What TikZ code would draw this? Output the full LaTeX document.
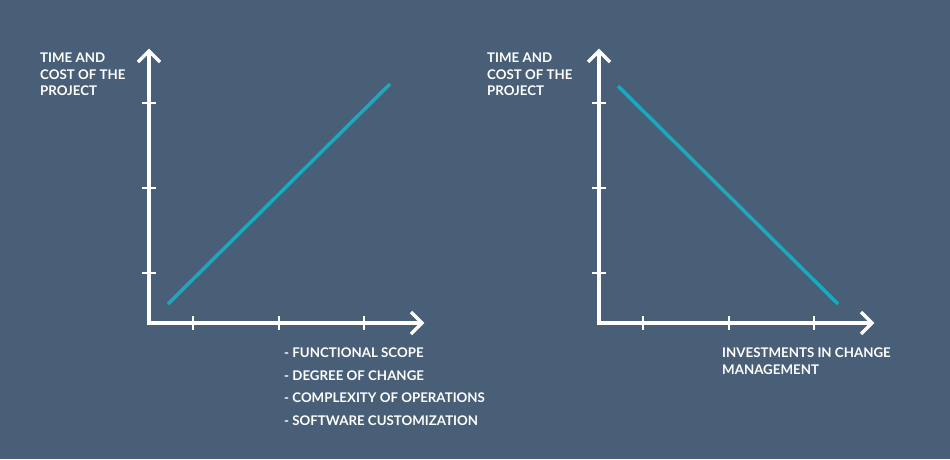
\documentclass[tikz,border=0pt]{standalone}
\usepackage{fontspec}
\setmainfont{Lato}
\begin{document}
\begin{tikzpicture}[x=1pt,y=-1pt,
  ax/.style={white,line width=3.5pt},
  chev/.style={white,line width=3.5pt,line cap=butt,line join=miter},
  tk/.style={white,line width=2pt},
  trend/.style={draw=teal1,line width=3.5pt},
  lab/.style={font=\bfseries\fontsize{13.3}{16.5}\selectfont,text=white,align=left,anchor=north west,inner sep=0pt}]
\definecolor{bg}{HTML}{485F77}
\definecolor{teal1}{HTML}{1AA9BD}
\fill[bg] (0,0) rectangle (950,459);
\useasboundingbox (0,0) rectangle (950,459);
\foreach \ox/\nm in {149/L,599/R}{
  \coordinate (o\nm) at (\ox,323);
  \coordinate (t\nm) at (\ox,51);
  \coordinate (r\nm) at (\ox+273,323);
  \draw[ax] (\ox,323) -- (t\nm);
  \draw[ax] (\ox-1.75,323) -- (r\nm);
  \draw[chev] (\ox-11,62) -- (t\nm) -- (\ox+11,62);
  \draw[chev] (\ox+262,312) -- (r\nm) -- (\ox+262,334);
  \foreach \yy in {103,188,273} \draw[tk] (\ox-7,\yy) -- (\ox+7,\yy);
  \foreach \xx in {44,130,215} \draw[tk] (\ox+\xx,316) -- (\ox+\xx,330);
}
\draw[trend] (168,304) -- (390,84);
\draw[trend] (618,86) -- (838,304);
\node[lab] (yl) at (40,53) {TIME AND\\COST OF THE\\PROJECT};
\node[lab] (yr) at (487,53) {TIME AND\\COST OF THE\\PROJECT};
\node[lab,font=\bfseries\fontsize{13.3}{22.5}\selectfont] (xl) at (284,348) {- FUNCTIONAL SCOPE\\- DEGREE OF CHANGE\\- COMPLEXITY OF OPERATIONS\\- SOFTWARE CUSTOMIZATION};
\node[lab] (xr) at (722,348) {INVESTMENTS IN CHANGE\\MANAGEMENT};
\end{tikzpicture}
\end{document}
